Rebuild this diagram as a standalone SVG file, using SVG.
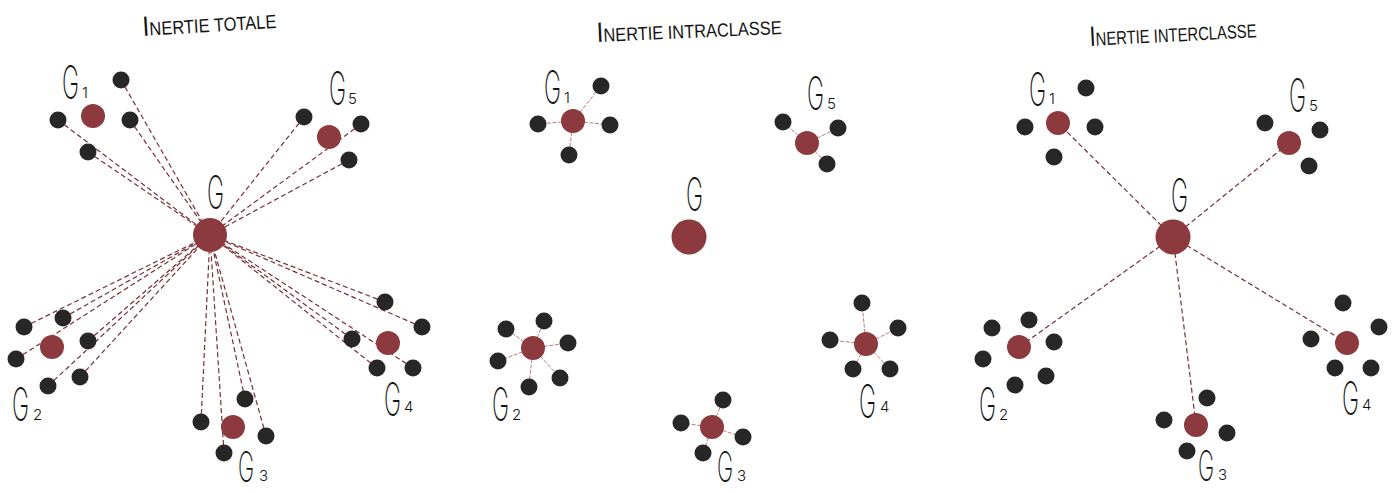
<svg xmlns="http://www.w3.org/2000/svg" width="1397" height="492" viewBox="0 0 1397 492">
<style>
.bg{fill:#ffffff}
.t{font-family:"Liberation Sans",Arial,sans-serif;font-size:19px;fill:#141414}
.tb{font-size:28px}
.gl{font-family:Inter,"Liberation Sans",Arial,sans-serif;font-weight:200;font-size:46px;fill:#141414}
.gs{font-size:42px}
.sub{font-family:Inter,"Liberation Sans",Arial,sans-serif;font-weight:300;font-size:15px;fill:#141414}
.ctr{fill:#8c3a3e}
.big{fill:#8c3a3e}
.pt{fill:#272727}
.dl{stroke:#7a2e35;stroke-width:1.2;stroke-dasharray:5 3;fill:none}
.il{stroke:#c07a7c;stroke-width:1;stroke-dasharray:4 1.5;fill:none}
</style>
<rect class="bg" width="1397" height="492"/>

<!-- titles -->
<g id="title-totale"><text class="t" x="143" y="36" transform="rotate(-3.5 143 36)" textLength="134" lengthAdjust="spacingAndGlyphs"><tspan class="tb">I</tspan>NERTIE TOTALE</text></g>
<g id="title-intra"><text class="t" x="597" y="42" transform="rotate(-2.5 597 42)" textLength="185" lengthAdjust="spacingAndGlyphs"><tspan class="tb">I</tspan>NERTIE INTRACLASSE</text></g>
<g id="title-inter"><text class="t" x="1090" y="46" transform="rotate(-3 1090 46)" textLength="167" lengthAdjust="spacingAndGlyphs"><tspan class="tb">I</tspan>NERTIE INTERCLASSE</text></g>

<!-- connectors -->
<g id="connectors">
  <g id="conn-totale">
    <line class="dl" x1="121" y1="80" x2="210" y2="235"/>
    <line class="dl" x1="58" y1="120" x2="210" y2="235"/>
    <line class="dl" x1="130" y1="120" x2="210" y2="235"/>
    <line class="dl" x1="88" y1="152" x2="210" y2="235"/>
    <line class="dl" x1="304" y1="117" x2="210" y2="235"/>
    <line class="dl" x1="361" y1="124" x2="210" y2="235"/>
    <line class="dl" x1="349" y1="160" x2="210" y2="235"/>
    <line class="dl" x1="24" y1="327" x2="210" y2="235"/>
    <line class="dl" x1="63" y1="318" x2="210" y2="235"/>
    <line class="dl" x1="16" y1="359" x2="210" y2="235"/>
    <line class="dl" x1="88" y1="341" x2="210" y2="235"/>
    <line class="dl" x1="48" y1="386" x2="210" y2="235"/>
    <line class="dl" x1="80" y1="377" x2="210" y2="235"/>
    <line class="dl" x1="201" y1="422" x2="210" y2="235"/>
    <line class="dl" x1="245" y1="399" x2="210" y2="235"/>
    <line class="dl" x1="266" y1="436" x2="210" y2="235"/>
    <line class="dl" x1="224" y1="453" x2="210" y2="235"/>
    <line class="dl" x1="385" y1="302" x2="210" y2="235"/>
    <line class="dl" x1="422" y1="327" x2="210" y2="235"/>
    <line class="dl" x1="352" y1="339" x2="210" y2="235"/>
    <line class="dl" x1="377" y1="368" x2="210" y2="235"/>
    <line class="dl" x1="413" y1="368" x2="210" y2="235"/>
  </g>
  <g id="conn-intra">
    <line class="il" x1="573" y1="121" x2="601" y2="86"/>
    <line class="il" x1="573" y1="121" x2="538" y2="124"/>
    <line class="il" x1="573" y1="121" x2="610" y2="125"/>
    <line class="il" x1="573" y1="121" x2="569" y2="155"/>
    <line class="il" x1="807" y1="143" x2="783" y2="122"/>
    <line class="il" x1="807" y1="143" x2="838" y2="128"/>
    <line class="il" x1="807" y1="143" x2="827" y2="164"/>
    <line class="il" x1="533" y1="348" x2="506" y2="329"/>
    <line class="il" x1="533" y1="348" x2="544" y2="321"/>
    <line class="il" x1="533" y1="348" x2="498" y2="361"/>
    <line class="il" x1="533" y1="348" x2="568" y2="343"/>
    <line class="il" x1="533" y1="348" x2="529" y2="387"/>
    <line class="il" x1="533" y1="348" x2="560" y2="378"/>
    <line class="il" x1="712" y1="427" x2="723" y2="400"/>
    <line class="il" x1="712" y1="427" x2="681" y2="423"/>
    <line class="il" x1="712" y1="427" x2="743" y2="437"/>
    <line class="il" x1="712" y1="427" x2="703" y2="453"/>
    <line class="il" x1="866" y1="344" x2="862" y2="303"/>
    <line class="il" x1="866" y1="344" x2="898" y2="328"/>
    <line class="il" x1="866" y1="344" x2="830" y2="340"/>
    <line class="il" x1="866" y1="344" x2="853" y2="369"/>
    <line class="il" x1="866" y1="344" x2="890" y2="369"/>
  </g>
  <g id="conn-inter">
    <line class="dl" x1="1173" y1="237" x2="1058" y2="123"/>
    <line class="dl" x1="1173" y1="237" x2="1289" y2="143"/>
    <line class="dl" x1="1173" y1="237" x2="1019" y2="347"/>
    <line class="dl" x1="1173" y1="237" x2="1196" y2="425"/>
    <line class="dl" x1="1173" y1="237" x2="1347" y2="343"/>
  </g>
</g>

<!-- ============ Panel 1 : inertie totale ============ -->
<g id="p1-G">
  <circle class="big" cx="210" cy="235" r="17"/>
  <g transform="translate(207 209) scale(0.5 1)"><text class="gl" x="0" y="0">G</text></g>
</g>
<g id="p1-G1">
  <circle class="ctr" cx="93" cy="116" r="12"/>
  <circle class="pt" cx="121" cy="80" r="8.5"/>
  <circle class="pt" cx="58" cy="120" r="8.5"/>
  <circle class="pt" cx="130" cy="120" r="8.5"/>
  <circle class="pt" cx="88" cy="152" r="8.5"/>
  <g transform="translate(62 99) scale(0.5 1)"><text class="gl" x="0" y="0">G</text></g>
  <text class="sub" x="82" y="98">1</text>
</g>
<g id="p1-G5">
  <circle class="ctr" cx="329" cy="137" r="12"/>
  <circle class="pt" cx="304" cy="117" r="8.5"/>
  <circle class="pt" cx="361" cy="124" r="8.5"/>
  <circle class="pt" cx="349" cy="160" r="8.5"/>
  <g transform="translate(329 105) scale(0.5 1)"><text class="gl" x="0" y="0">G</text></g>
  <text class="sub" x="348" y="104">5</text>
</g>
<g id="p1-G2">
  <circle class="ctr" cx="52" cy="347" r="12"/>
  <circle class="pt" cx="24" cy="327" r="8.5"/>
  <circle class="pt" cx="63" cy="318" r="8.5"/>
  <circle class="pt" cx="16" cy="359" r="8.5"/>
  <circle class="pt" cx="88" cy="341" r="8.5"/>
  <circle class="pt" cx="48" cy="386" r="8.5"/>
  <circle class="pt" cx="80" cy="377" r="8.5"/>
  <g transform="translate(12 421) scale(0.5 1)"><text class="gl" x="0" y="0">G</text></g>
  <text class="sub" x="33" y="420">2</text>
</g>
<g id="p1-G3">
  <circle class="ctr" cx="233" cy="427" r="12"/>
  <circle class="pt" cx="201" cy="422" r="8.5"/>
  <circle class="pt" cx="245" cy="399" r="8.5"/>
  <circle class="pt" cx="266" cy="436" r="8.5"/>
  <circle class="pt" cx="224" cy="453" r="8.5"/>
  <g transform="translate(238 482) scale(0.52 1)"><text class="gl gs" x="0" y="0">G</text></g>
  <text class="sub" x="259" y="481">3</text>
</g>
<g id="p1-G4">
  <circle class="ctr" cx="388" cy="343" r="12"/>
  <circle class="pt" cx="385" cy="302" r="8.5"/>
  <circle class="pt" cx="422" cy="327" r="8.5"/>
  <circle class="pt" cx="352" cy="339" r="8.5"/>
  <circle class="pt" cx="377" cy="368" r="8.5"/>
  <circle class="pt" cx="413" cy="368" r="8.5"/>
  <g transform="translate(384 416) scale(0.5 1)"><text class="gl" x="0" y="0">G</text></g>
  <text class="sub" x="404" y="412">4</text>
</g>

<!-- ============ Panel 2 : inertie intraclasse ============ -->
<g id="p2-G">
  <circle class="big" cx="689" cy="237" r="17.5"/>
  <g transform="translate(686 211) scale(0.5 1)"><text class="gl" x="0" y="0">G</text></g>
</g>
<g id="p2-G1">
  <circle class="ctr" cx="573" cy="121" r="12"/>
  <circle class="pt" cx="601" cy="86" r="8.5"/>
  <circle class="pt" cx="538" cy="124" r="8.5"/>
  <circle class="pt" cx="610" cy="125" r="8.5"/>
  <circle class="pt" cx="569" cy="155" r="8.5"/>
  <g transform="translate(544 104) scale(0.5 1)"><text class="gl" x="0" y="0">G</text></g>
  <text class="sub" x="564" y="103">1</text>
</g>
<g id="p2-G5">
  <circle class="ctr" cx="807" cy="143" r="12"/>
  <circle class="pt" cx="783" cy="122" r="8.5"/>
  <circle class="pt" cx="838" cy="128" r="8.5"/>
  <circle class="pt" cx="827" cy="164" r="8.5"/>
  <g transform="translate(807 110) scale(0.5 1)"><text class="gl" x="0" y="0">G</text></g>
  <text class="sub" x="827" y="109">5</text>
</g>
<g id="p2-G2">
  <circle class="ctr" cx="533" cy="348" r="12"/>
  <circle class="pt" cx="506" cy="329" r="8.5"/>
  <circle class="pt" cx="544" cy="321" r="8.5"/>
  <circle class="pt" cx="498" cy="361" r="8.5"/>
  <circle class="pt" cx="568" cy="343" r="8.5"/>
  <circle class="pt" cx="529" cy="387" r="8.5"/>
  <circle class="pt" cx="560" cy="378" r="8.5"/>
  <g transform="translate(492 421) scale(0.5 1)"><text class="gl" x="0" y="0">G</text></g>
  <text class="sub" x="512" y="420">2</text>
</g>
<g id="p2-G3">
  <circle class="ctr" cx="712" cy="427" r="12"/>
  <circle class="pt" cx="723" cy="400" r="8.5"/>
  <circle class="pt" cx="681" cy="423" r="8.5"/>
  <circle class="pt" cx="743" cy="437" r="8.5"/>
  <circle class="pt" cx="703" cy="453" r="8.5"/>
  <g transform="translate(717 482) scale(0.52 1)"><text class="gl gs" x="0" y="0">G</text></g>
  <text class="sub" x="737" y="481">3</text>
</g>
<g id="p2-G4">
  <circle class="ctr" cx="866" cy="344" r="12"/>
  <circle class="pt" cx="862" cy="303" r="8.5"/>
  <circle class="pt" cx="898" cy="328" r="8.5"/>
  <circle class="pt" cx="830" cy="340" r="8.5"/>
  <circle class="pt" cx="853" cy="369" r="8.5"/>
  <circle class="pt" cx="890" cy="369" r="8.5"/>
  <g transform="translate(859 418) scale(0.5 1)"><text class="gl" x="0" y="0">G</text></g>
  <text class="sub" x="880" y="412">4</text>
</g>

<!-- ============ Panel 3 : inertie interclasse ============ -->
<g id="p3-G">
  <circle class="big" cx="1173" cy="237" r="17.5"/>
  <g transform="translate(1171 212) scale(0.5 1)"><text class="gl" x="0" y="0">G</text></g>
</g>
<g id="p3-G1">
  <circle class="ctr" cx="1058" cy="123" r="12"/>
  <circle class="pt" cx="1086" cy="88" r="8.5"/>
  <circle class="pt" cx="1025" cy="127" r="8.5"/>
  <circle class="pt" cx="1095" cy="127" r="8.5"/>
  <circle class="pt" cx="1054" cy="157" r="8.5"/>
  <g transform="translate(1029 106) scale(0.5 1)"><text class="gl" x="0" y="0">G</text></g>
  <text class="sub" x="1049" y="104">1</text>
</g>
<g id="p3-G5">
  <circle class="ctr" cx="1289" cy="143" r="12"/>
  <circle class="pt" cx="1265" cy="123" r="8.5"/>
  <circle class="pt" cx="1320" cy="130" r="8.5"/>
  <circle class="pt" cx="1309" cy="166" r="8.5"/>
  <g transform="translate(1289 112) scale(0.5 1)"><text class="gl" x="0" y="0">G</text></g>
  <text class="sub" x="1309" y="111">5</text>
</g>
<g id="p3-G2">
  <circle class="ctr" cx="1019" cy="347" r="12"/>
  <circle class="pt" cx="992" cy="328" r="8.5"/>
  <circle class="pt" cx="1029" cy="320" r="8.5"/>
  <circle class="pt" cx="983" cy="359" r="8.5"/>
  <circle class="pt" cx="1054" cy="342" r="8.5"/>
  <circle class="pt" cx="1015" cy="385" r="8.5"/>
  <circle class="pt" cx="1046" cy="376" r="8.5"/>
  <g transform="translate(979 421) scale(0.5 1)"><text class="gl" x="0" y="0">G</text></g>
  <text class="sub" x="999" y="420">2</text>
</g>
<g id="p3-G3">
  <circle class="ctr" cx="1196" cy="425" r="12"/>
  <circle class="pt" cx="1207" cy="398" r="8.5"/>
  <circle class="pt" cx="1164" cy="420" r="8.5"/>
  <circle class="pt" cx="1227" cy="433" r="8.5"/>
  <circle class="pt" cx="1187" cy="451" r="8.5"/>
  <g transform="translate(1198 481) scale(0.52 1)"><text class="gl gs" x="0" y="0">G</text></g>
  <text class="sub" x="1218" y="480">3</text>
</g>
<g id="p3-G4">
  <circle class="ctr" cx="1347" cy="343" r="12"/>
  <circle class="pt" cx="1343" cy="303" r="8.5"/>
  <circle class="pt" cx="1379" cy="327" r="8.5"/>
  <circle class="pt" cx="1311" cy="339" r="8.5"/>
  <circle class="pt" cx="1335" cy="368" r="8.5"/>
  <circle class="pt" cx="1371" cy="368" r="8.5"/>
  <g transform="translate(1342 415) scale(0.5 1)"><text class="gl" x="0" y="0">G</text></g>
  <text class="sub" x="1362" y="410">4</text>
</g>
</svg>
